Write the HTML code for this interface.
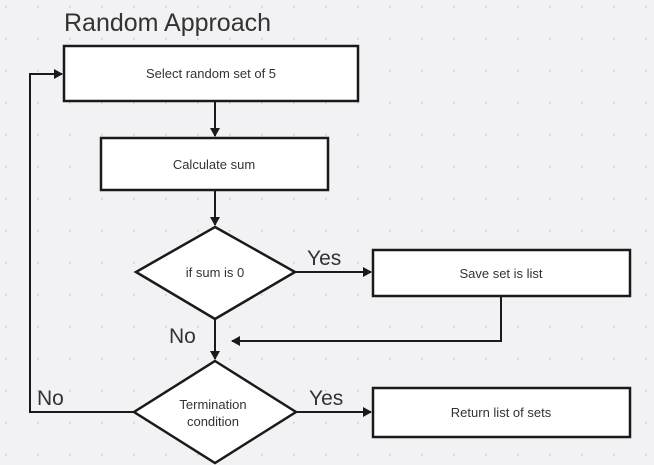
<!DOCTYPE html><html><head><style>body{margin:0;background:#f2f2f4}svg{display:block}</style></head><body>
<svg width="654" height="465" xmlns="http://www.w3.org/2000/svg" font-family="Liberation Sans, sans-serif">
<defs><pattern id="d" x="5" y="6" width="32" height="32" patternUnits="userSpaceOnUse"><rect width="1.5" height="1.5" fill="#c8c8cc"/></pattern>
<marker id="a" markerWidth="10" markerHeight="10" refX="8" refY="5" orient="auto" markerUnits="userSpaceOnUse"><path d="M0,0L9,5L0,10z" fill="#1a1a1a"/></marker></defs>
<rect width="654" height="465" fill="#f2f2f4"/><rect width="654" height="465" fill="url(#d)"/>
<text x="64" y="31" font-size="25" fill="#333" textLength="207">Random Approach</text>
<g stroke="#1a1a1a" stroke-width="2.5" fill="#fff">
<rect x="64" y="46" width="294" height="55"/>
<rect x="101" y="138" width="227" height="52"/>
<polygon points="215,227 295,272 215,319 136,272"/>
<rect x="373" y="250" width="257" height="46"/>
<polygon points="215,361 296,412 215,463 134,412"/>
<rect x="373" y="388" width="257" height="49"/>
</g>
<g stroke="#1a1a1a" stroke-width="2" fill="none">
<line x1="215" y1="101" x2="215" y2="136" marker-end="url(#a)"/>
<line x1="215" y1="190" x2="215" y2="225" marker-end="url(#a)"/>
<line x1="295" y1="272" x2="371" y2="272" marker-end="url(#a)"/>
<line x1="215" y1="319" x2="215" y2="359" marker-end="url(#a)"/>
<polyline points="501,296 501,341 232,341" marker-end="url(#a)"/>
<line x1="296" y1="412" x2="371" y2="412" marker-end="url(#a)"/>
<polyline points="134,412 30,412 30,74 62,74" marker-end="url(#a)"/>
</g>
<g fill="#333" font-size="13" text-anchor="middle">
<text x="211" y="78">Select random set of 5</text>
<text x="214" y="169">Calculate sum</text>
<text x="215" y="277">if sum is 0</text>
<text x="501" y="278">Save set is list</text>
<text x="213" y="409">Termination</text>
<text x="213" y="426">condition</text>
<text x="501" y="417">Return list of sets</text>
</g>
<g fill="#333" font-size="21">
<text x="307" y="265">Yes</text>
<text x="169" y="343">No</text>
<text x="309" y="405">Yes</text>
<text x="37" y="405">No</text>
</g>
</svg></body></html>
